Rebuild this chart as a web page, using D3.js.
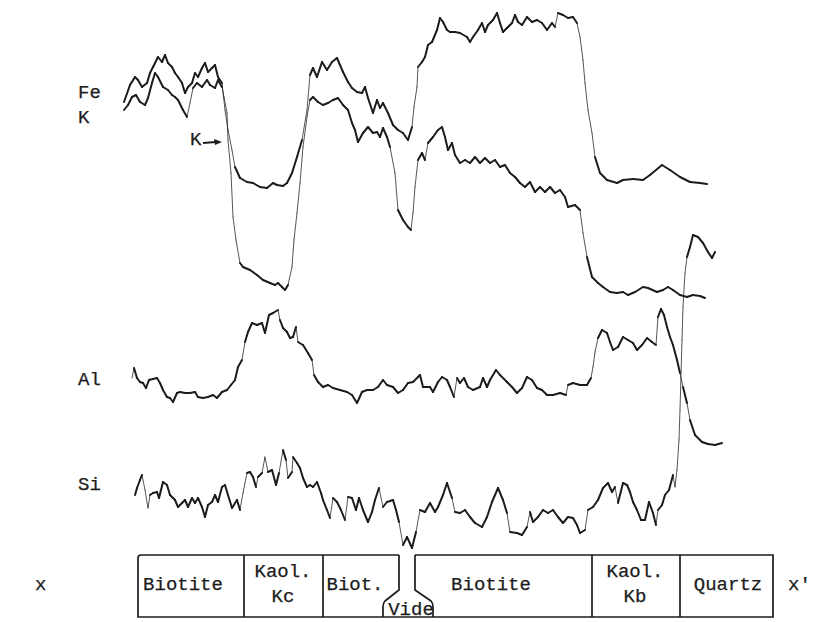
<!DOCTYPE html>
<html>
<head>
<meta charset="utf-8">
<script src="https://cdn.jsdelivr.net/npm/d3@7"></script>
<style>
  html, body { margin: 0; padding: 0; background: #fff; }
  svg { display: block; }
  text { font-family: "Courier New", "Liberation Mono", "DejaVu Sans Mono", monospace; fill: #1c1c1c; stroke: #1c1c1c; stroke-width: 0.25px; }
</style>
</head>
<body>
<svg id="chart" width="827" height="622"></svg>
<script>
// ---- Data: microprobe traverse x -> x' (position in arbitrary µm units, counts in arbitrary units)
const feProfile = [[4,498],[10,515],[15,523],[18,520],[22,513],[27,517],[30,527],[33,533],[38,543],[42,538],[45,545],[48,537],[52,533],[55,527],[58,523],[62,517],[65,507],[68,513],[72,517],[75,527],[78,523],[82,532],[85,537],[88,528],[92,532],[95,535],[98,523],[102,517],[105,490],[108,470],[112,450],[115,433],[120,422],[127,418],[133,417],[140,413],[147,412],[153,417],[157,415],[163,414],[167,417],[172,427],[177,443],[182,460],[187,490],[190,525],[193,532],[197,523],[202,538],[207,530],[212,538],[217,542],[220,535],[223,528],[228,518],[232,512],[237,508],[242,507],[245,513],[248,502],[253,487],[257,500],[260,492],[263,497],[268,487],[273,475],[278,470],[283,467],[288,460],[292,473],[294,493],[297,513],[298,533],[302,538],[305,543],[308,555],[312,558],[317,570],[320,582],[323,578],[327,570],[330,568],[335,568],[340,567],[347,563],[350,558],[353,563],[358,570],[362,577],[365,568],[368,575],[373,580],[377,587],[380,577],[383,568],[387,572],[392,577],[395,585],[398,578],[402,575],[407,583],[412,578],[417,580],[422,577],[427,570],[432,577],[435,573],[438,587],[443,585],[448,582],[453,583],[457,577],[460,563],[463,540],[465,517],[468,490],[472,467],[475,443],[480,427],[487,420],[497,417],[503,420],[513,421],[523,420],[530,425],[542,435],[550,430],[560,423],[570,418],[580,417],[587,416]];

const kProfile = [[4,490],[8,495],[12,503],[16,505],[20,498],[25,495],[28,502],[32,517],[35,527],[38,523],[43,513],[48,510],[52,505],[55,503],[58,500],[63,490],[67,483],[70,497],[73,512],[77,517],[82,513],[87,520],[90,515],[95,512],[98,520],[102,513],[104,503],[107,487],[108,460],[111,427],[113,383],[116,360],[120,337],[123,333],[130,330],[137,325],[143,320],[150,317],[155,315],[158,317],[162,313],[165,310],[168,315],[172,333],[174,360],[177,387],[180,417],[183,453],[187,483],[190,500],[193,503],[198,498],[203,495],[208,497],[213,500],[218,502],[223,495],[228,490],[232,477],[235,470],[238,458],[243,467],[248,473],[253,467],[257,468],[260,463],[263,472],[267,463],[270,453],[275,427],[278,390],[283,380],[288,373],[291,370],[293,387],[295,413],[298,440],[302,447],[305,440],[308,457],[313,463],[318,470],[322,473],[325,463],[328,450],[332,457],[335,445],[340,437],[345,440],[350,437],[355,443],[360,437],[365,442],[370,437],[375,440],[380,433],[385,435],[390,427],[395,423],[400,417],[405,413],[410,418],[415,408],[420,413],[425,408],[430,413],[435,407],[440,410],[445,403],[448,393],[455,395],[460,390],[463,367],[467,343],[472,323],[478,317],[483,313],[490,308],[497,307],[503,308],[508,305],[515,308],[523,313],[528,312],[537,308],[543,310],[548,313],[553,310],[560,305],[567,303],[573,305],[580,304],[585,302]];

const alProfile = [[12,222],[14,232],[17,222],[20,218],[23,217],[26,212],[29,220],[33,221],[37,222],[40,217],[43,210],[47,203],[50,202],[53,198],[57,207],[60,208],[65,207],[70,207],[75,208],[78,203],[83,202],[88,203],[93,205],[97,202],[102,208],[107,210],[111,215],[115,220],[118,233],[122,240],[125,258],[128,268],[132,277],[137,275],[142,277],[145,267],[149,285],[153,287],[158,290],[160,280],[163,272],[167,268],[170,262],[173,263],[176,273],[178,258],[183,255],[188,247],[192,240],[194,225],[198,218],[203,213],[208,215],[213,212],[220,210],[227,208],[232,205],[237,197],[242,208],[247,210],[253,210],[258,213],[263,220],[267,215],[273,213],[278,207],[283,210],[288,217],[293,218],[298,223],[300,225],[303,213],[310,213],[313,208],[318,218],[322,223],[327,220],[330,213],[334,203],[337,222],[340,217],[344,222],[348,213],[353,210],[360,213],[363,222],[367,213],[370,220],[376,230],[380,225],[387,218],[392,213],[397,207],[402,212],[407,223],[412,220],[417,212],[422,210],[427,205],[433,205],[440,207],[446,205],[448,215],[453,217],[460,215],[467,215],[471,222],[473,233],[475,248],[478,262],[482,270],[487,267],[490,258],[493,250],[498,253],[503,263],[508,260],[513,257],[517,250],[522,255],[527,262],[532,258],[536,255],[538,283],[541,291],[544,285],[547,273],[550,263],[553,255],[557,240],[560,227],[563,213],[567,197],[570,180],[575,165],[582,158],[588,156],[595,155],[602,157]];

const siProfile = [[15,105],[17,112],[20,120],[22,125],[25,110],[28,92],[30,105],[33,107],[37,108],[39,102],[43,118],[47,115],[50,105],[55,100],[58,93],[62,97],[65,100],[68,93],[72,102],[75,97],[78,102],[82,93],[85,83],[88,95],[92,98],[95,105],[98,98],[102,113],[105,115],[108,105],[112,92],[117,100],[120,90],[123,107],[127,127],[130,128],[133,123],[136,113],[138,123],[142,127],[145,143],[148,128],[152,130],[156,115],[159,127],[163,150],[166,140],[168,122],[172,128],[173,143],[177,137],[180,132],[183,122],[187,113],[190,115],[193,113],[197,118],[201,107],[203,100],[207,90],[210,82],[213,102],[217,98],[221,90],[225,80],[228,103],[232,102],[236,90],[239,102],[243,90],[248,78],[252,88],[255,100],[259,112],[263,93],[267,98],[273,100],[276,90],[279,78],[283,55],[287,63],[292,52],[296,68],[300,90],[305,88],[310,97],[315,88],[318,93],[323,105],[327,117],[332,102],[335,88],[340,87],[345,90],[350,83],[355,77],[362,73],[367,83],[372,98],[378,112],[383,100],[387,87],[390,68],[397,67],[402,65],[407,73],[410,88],[413,78],[418,83],[423,90],[428,87],[433,90],[438,83],[443,77],[448,83],[453,82],[457,75],[460,67],[465,70],[468,90],[473,93],[478,100],[483,112],[488,117],[492,108],[495,113],[498,97],[503,117],[507,115],[510,108],[513,98],[517,90],[521,80],[525,80],[529,98],[533,87],[536,75],[538,90],[542,95],[545,105],[549,110],[553,125],[555,113],[557,130],[559,160],[560,190],[562,260],[563,293],[565,327],[567,343],[570,353],[573,365],[578,363],[583,357],[588,348],[592,342],[595,348]];

const elementNames  = ["Fe", "K", "Al", "Si"];
const elementLabelY = [502, 477, 215, 110];

const zoneBounds  = [18, 124, 203, 472, 560, 653];
const videNeck    = [279, 295];
const videFlare   = [263, 313];
const zoneLines1  = ["Biotite", "Kaol.", "Biot.", "Vide", "Biotite", "Kaol.", "Quartz"];
const zoneLines2  = ["", "Kc", "", "", "", "Kb", ""];
const zoneLabelX  = [63, 163, 235, 291, 371, 515, 608];

// ---- Scales
const svg = d3.select("#chart");
const x = d3.scaleLinear().domain([0, 600]).range([120, 720]);
const y = d3.scaleLinear().domain([0, 600]).range([600, 0]);

const ink = "#1c1c1c";

// draw profile: segment width depends on pen speed (steep = thinner, fainter)
function drawProfile(data) {
  const g = svg.append("g");
  const line = d3.line().x(d => x(d[0])).y(d => y(d[1]));
  for (let i = 1; i < data.length; i++) {
    const a = data[i - 1], b = data[i];
    const slope = Math.abs((y(b[1]) - y(a[1])) / Math.max(0.5, x(b[0]) - x(a[0])));
    const steep = slope > 4.5;
    g.append("path")
      .attr("d", line([a, b]))
      .attr("fill", "none")
      .attr("stroke", ink)
      .attr("stroke-width", steep ? 1.0 : 2.0)
      .attr("stroke-opacity", steep ? 0.75 : 1)
      .attr("stroke-linecap", "round")
      .attr("stroke-linejoin", "round");
  }
}
[feProfile, kProfile, alProfile, siProfile].forEach(drawProfile);

const fs = 19;
// element labels
elementNames.forEach((n, i) => {
  svg.append("text").attr("x", x(-42)).attr("y", y(elementLabelY[i]))
    .attr("font-size", fs).text(n);
});

// K annotation arrow
svg.append("text").attr("x", x(70)).attr("y", y(455)).attr("font-size", fs).text("K");
svg.append("line").attr("x1", x(83)).attr("y1", y(457)).attr("x2", x(96)).attr("y2", y(458))
  .attr("stroke", ink).attr("stroke-width", 1.8);
svg.append("path")
  .attr("d", `M${x(102)},${y(458)} L${x(94)},${y(461)} L${x(95)},${y(455)} Z`)
  .attr("fill", ink);

// x / x' labels
svg.append("text").attr("x", 35).attr("y", 590).attr("font-size", fs).text("x");
svg.append("text").attr("x", 788).attr("y", 590).attr("font-size", fs).text("x'");

// ---- Zone box
const boxTop = 555, boxBot = 617, neckBot = 590, flareY = 603;
const box = svg.append("g").attr("fill", "none").attr("stroke", ink).attr("stroke-width", 1.7);
const x0 = x(zoneBounds[0]), xEnd = x(zoneBounds[zoneBounds.length - 1]);
// outline with Vide notch
box.append("path").attr("d",
  `M${x(videNeck[0])},${boxTop} L${x0 + 3},${boxTop} Q${x0},${boxTop} ${x0},${boxTop + 3} L${x0},${boxBot} L${xEnd},${boxBot} L${xEnd},${boxTop} L${x(videNeck[1])},${boxTop}`);
// interior dividers
zoneBounds.slice(1, -1).forEach(b => {
  box.append("line").attr("x1", x(b)).attr("x2", x(b)).attr("y1", boxTop).attr("y2", boxBot);
});
// Vide shape
box.append("path").attr("d",
  `M${x(videNeck[0])},${boxTop} L${x(videNeck[0])},${neckBot} L${x(videFlare[0]) + 2},${flareY - 2} Q${x(videFlare[0])},${flareY} ${x(videFlare[0])},${flareY + 4} L${x(videFlare[0])},${boxBot}`);
box.append("path").attr("d",
  `M${x(videNeck[1])},${boxTop} L${x(videNeck[1])},${neckBot} L${x(videFlare[1]) - 2},${flareY - 2} Q${x(videFlare[1])},${flareY} ${x(videFlare[1])},${flareY + 4} L${x(videFlare[1])},${boxBot}`);

// zone labels
zoneLines1.forEach((t, i) => {
  const two = zoneLines2[i] !== "";
  const isVide = t === "Vide";
  svg.append("text").attr("x", x(zoneLabelX[i])).attr("y", isVide ? 615 : (two ? 577 : 590))
    .attr("text-anchor", "middle").attr("font-size", fs).text(t);
  if (two) {
    svg.append("text").attr("x", x(zoneLabelX[i])).attr("y", 602)
      .attr("text-anchor", "middle").attr("font-size", fs).text(zoneLines2[i]);
  }
});
</script>
</body>
</html>
